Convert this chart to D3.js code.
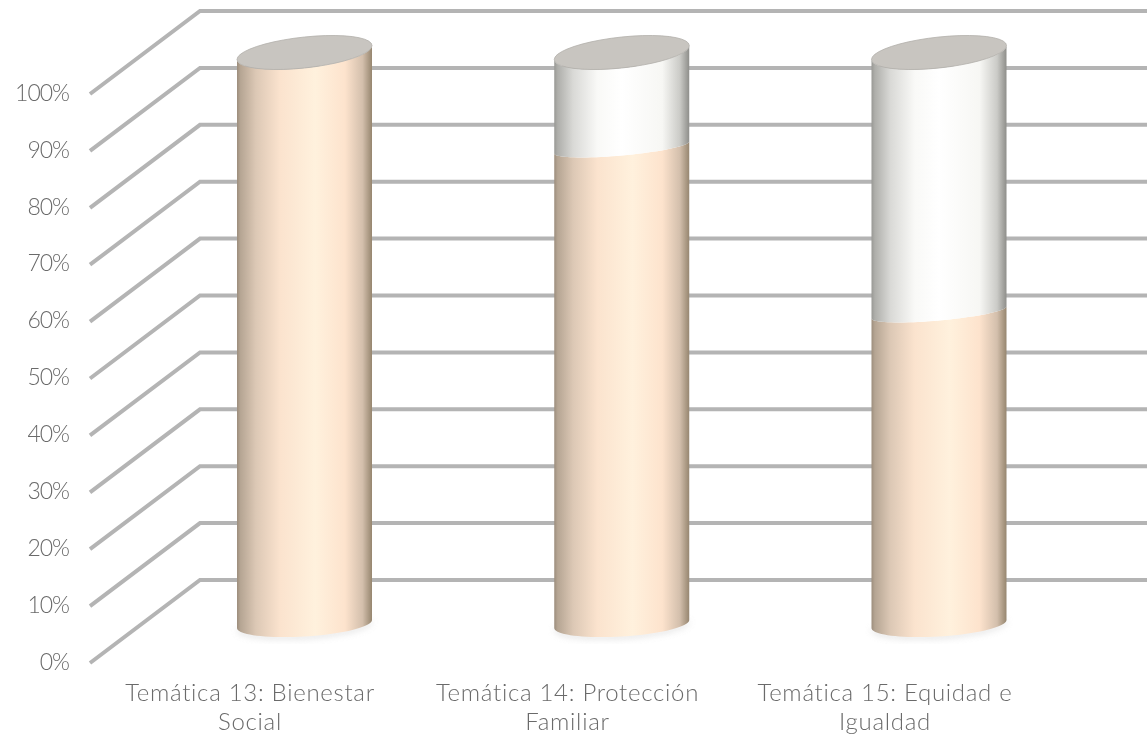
<!DOCTYPE html>
<html><head><meta charset="utf-8">
<script src="https://cdn.jsdelivr.net/npm/d3@7/dist/d3.min.js"></script>
<style>
html,body{margin:0;padding:0;background:#fff;overflow:hidden}
text{font-family:"Lato","Open Sans",sans-serif;font-weight:300;fill:#6a6a6a}
</style></head><body>
<script>
const categories = [["Temática 13: Bienestar","Social"],["Temática 14: Protección","Familiar"],["Temática 15: Equidad e","Igualdad"]];
const seriesA = [100, 83.4, 54.4];
const seriesB = [0, 16.6, 45.6];
const ticks = [0,10,20,30,40,50,60,70,80,90,100];

const W=1147,H=736;
const svg=d3.select("body").append("svg").attr("width",W).attr("height",H);
const defs=svg.append("defs");
const blur=defs.append("filter").attr("id","soft");
blur.append("feGaussianBlur").attr("stdDeviation",0.7);
const tb=defs.append("filter").attr("id","tsoft").attr("x","-5%").attr("y","-5%").attr("width","110%").attr("height","110%");
tb.append("feGaussianBlur").attr("stdDeviation",0.3);
const sh=defs.append("filter").attr("id","sh").attr("x","-20%").attr("y","-20%").attr("width","140%").attr("height","140%");
sh.append("feGaussianBlur").attr("stdDeviation",3);

function grad(id,stops){
  const g=defs.append("linearGradient").attr("id",id).attr("x1","0").attr("x2","1").attr("y1","0").attr("y2","0");
  stops.forEach(s=>g.append("stop").attr("offset",s[0]).attr("stop-color",s[1]));
}
grad("gA",[[0,"#9c8d7c"],[0.025,"#b5a593"],[0.14,"#dcc8b5"],[0.32,"#fbe3ce"],[0.58,"#fff1dd"],[0.8,"#fde3cd"],[0.93,"#d3bfac"],[1,"#96866f"]]);
grad("gB",[[0,"#989894"],[0.025,"#aeaeaa"],[0.14,"#d9d9d6"],[0.32,"#f9f9f7"],[0.5,"#ffffff"],[0.8,"#f7f7f4"],[0.93,"#cbcbc7"],[1,"#8e8e8a"]]);

const y=d3.scaleLinear().domain([0,100]).range([580,11]);
const x=d3.scalePoint().domain(d3.range(categories.length)).range([304.5,939]);
const gx0=90,gx1=200,gxEnd=W,depth=83;
const midDepth=42;

const grid=svg.append("g").attr("filter","url(#soft)");
ticks.forEach(t=>{
  const line=d3.line()([[gx0,y(t)+depth],[gx1,y(t)],[gxEnd,y(t)]]);
  grid.append("path").attr("d",line).attr("fill","none").attr("stroke","#b4b4b4").attr("stroke-width",4);
});

svg.append("g").attr("filter","url(#tsoft)").selectAll("text").data(ticks).join("text")
  .attr("x",69).attr("y",t=>y(t)+depth+1).attr("text-anchor","end").attr("dominant-baseline","middle")
  .attr("font-size",23).attr("letter-spacing",-1).text(t=>t+"%");

const rx=67.5;
const cy=v=>y(v)+midDepth;
const topShape={k:7,h:15.5,off:-0.5}, midShape={k:6,h:8,off:0}, botShape={k:4,h:12.5,off:2};
const lineGen=d3.line();
function arcPts(cx,c,s,a,b){
  return d3.range(0,41).map(i=>{
    const t=a+(b-a)*i/40;
    return [cx+rx*Math.cos(t), c+s.off-s.k*Math.cos(t)+s.h*Math.sin(t)];
  });
}
function seg(cx,v0,s0,v1,s1){
  const low=arcPts(cx,cy(v0),s0,Math.PI,0);
  const up=arcPts(cx,cy(v1),s1,0,Math.PI);
  return lineGen(low.concat(up))+"Z";
}
function cap(cx,v,s){
  return lineGen(arcPts(cx,cy(v),s,0,2*Math.PI))+"Z";
}
const bars=svg.append("g").attr("filter","url(#soft)");
categories.forEach((c,i)=>{
  const cx=x(i);
  const total=seriesA[i]+seriesB[i];
  bars.append("path").attr("d",seg(cx,0,botShape,0.6,botShape)).attr("transform","translate(0,2)").attr("fill","#c4c4c4").attr("opacity",0.6).attr("filter","url(#sh)");
  bars.append("path").attr("d",seg(cx,0,botShape,seriesA[i],seriesB[i]>0?midShape:topShape)).attr("fill","url(#gA)");
  if(seriesB[i]>0){
    bars.append("path").attr("d",seg(cx,seriesA[i],midShape,total,topShape)).attr("fill","url(#gB)");
  }
  bars.append("path").attr("d",cap(cx,total,topShape)).attr("fill","#c8c5c0").attr("stroke","#b3b0ab").attr("stroke-width",0.8);
});

const labels=svg.append("g").attr("filter","url(#tsoft)");
const labelX=d3.scalePoint().domain(d3.range(categories.length)).range([250,885]);
categories.forEach((c,i)=>{
  c.forEach((s,j)=>{
    labels.append("text").attr("x",labelX(i)).attr("y",701+j*29).attr("text-anchor","middle")
      .attr("font-size",24).attr("letter-spacing",0.7).text(s);
  });
});
</script>
</body></html>
